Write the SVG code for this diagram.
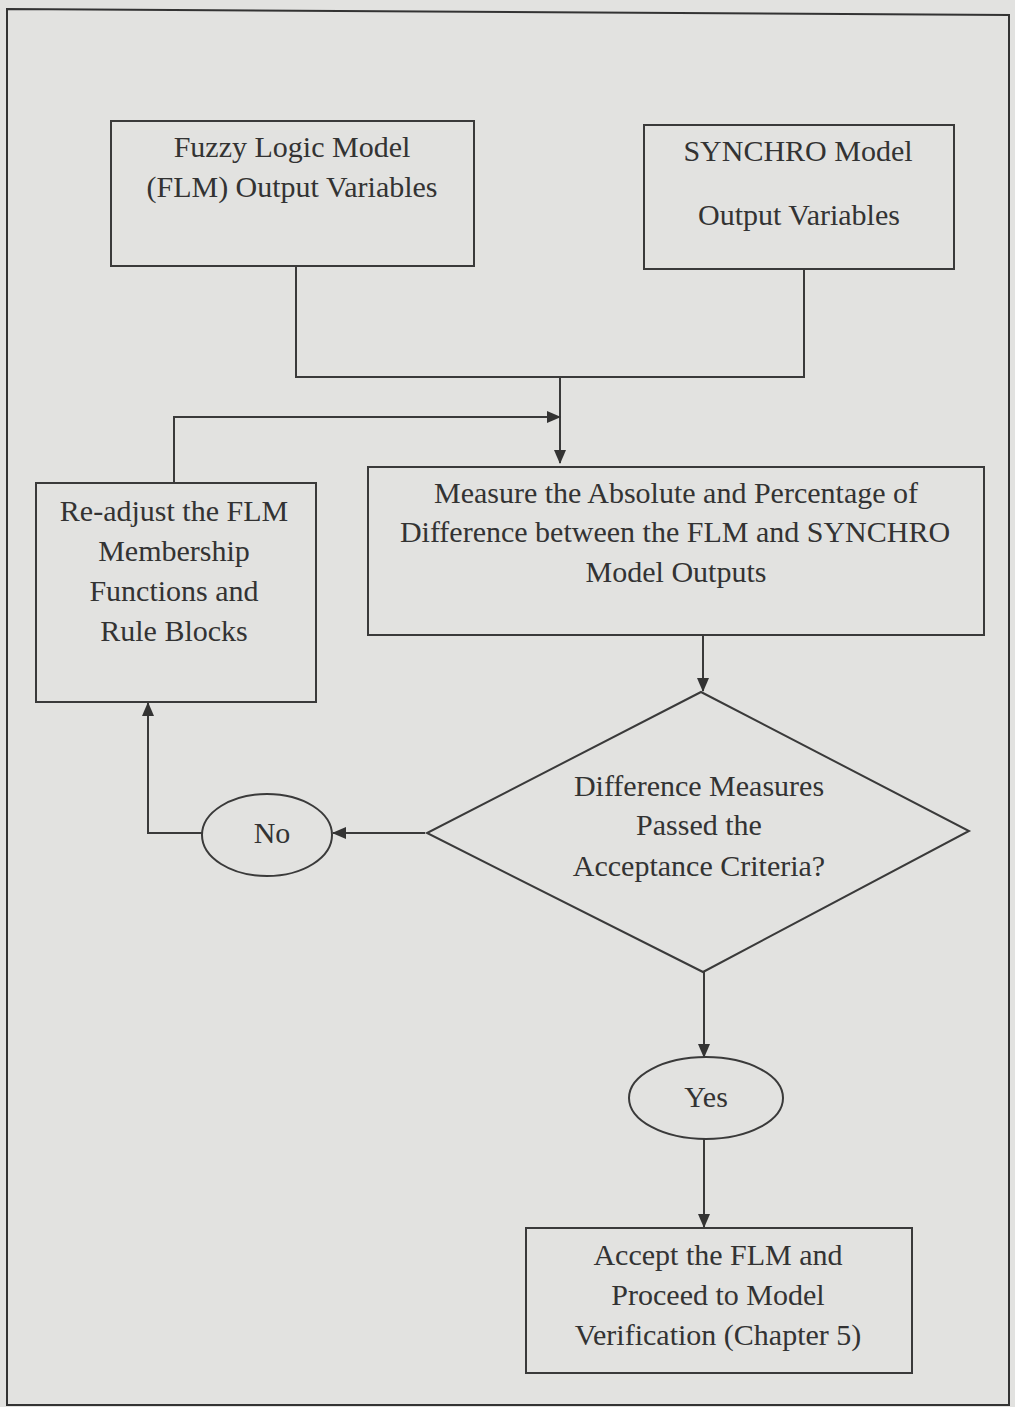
<svg xmlns="http://www.w3.org/2000/svg" width="1015" height="1407" viewBox="0 0 1015 1407">
<defs>
<marker id="arr" markerWidth="14" markerHeight="12" refX="13" refY="6" orient="auto" markerUnits="userSpaceOnUse">
<path d="M0,0 L14,6 L0,12 Z" fill="#333"/>
</marker>
<style>
.box{fill:none;stroke:#3a3a3a;stroke-width:2}
.ln{fill:none;stroke:#3a3a3a;stroke-width:2}
text{font-family:"Liberation Serif","Times New Roman",serif;font-size:30px;fill:#333;text-anchor:middle}
</style>
</defs>
<rect x="0" y="0" width="1015" height="1407" fill="#e2e2e0"/>
<path d="M7,9 L1009,15 L1009,1405 L7,1405 Z" fill="none" stroke="#333" stroke-width="2"/>

<g id="connectors">
<path class="ln" d="M296,266 V377 H804 V269"/>
<path class="ln" d="M560,377 V463" marker-end="url(#arr)"/>
<path class="ln" d="M174,483 V417 H560" marker-end="url(#arr)"/>
<path class="ln" d="M703,635 V691" marker-end="url(#arr)"/>
<path class="ln" d="M425,833 H333" marker-end="url(#arr)"/>
<path class="ln" d="M202,833 H148 V703" marker-end="url(#arr)"/>
<path class="ln" d="M704,972 V1057" marker-end="url(#arr)"/>
<path class="ln" d="M704,1139 V1227" marker-end="url(#arr)"/>
</g>

<g id="flm">
<rect class="box" x="111" y="121" width="363" height="145"/>
<text x="292" y="157">Fuzzy Logic Model</text>
<text x="292" y="197">(FLM) Output Variables</text>
</g>

<g id="synchro">
<rect class="box" x="644" y="125" width="310" height="144"/>
<text x="798" y="161">SYNCHRO Model</text>
<text x="799" y="225">Output Variables</text>
</g>

<g id="readjust">
<rect class="box" x="36" y="483" width="280" height="219"/>
<text x="174" y="521">Re-adjust the FLM</text>
<text x="174" y="561">Membership</text>
<text x="174" y="601">Functions and</text>
<text x="174" y="641">Rule Blocks</text>
</g>

<g id="measure">
<rect class="box" x="368" y="467" width="616" height="168"/>
<text x="676" y="503">Measure the Absolute and Percentage of</text>
<text x="675" y="542">Difference between the FLM and SYNCHRO</text>
<text x="676" y="582">Model Outputs</text>
</g>

<g id="decision">
<polygon class="box" points="701,692 969,831 703,972 427,833"/>
<text x="699" y="796">Difference Measures</text>
<text x="699" y="835">Passed the</text>
<text x="699" y="876">Acceptance Criteria?</text>
</g>

<g id="no">
<ellipse class="box" cx="267" cy="835" rx="65" ry="41"/>
<text x="272" y="843">No</text>
</g>

<g id="yes">
<ellipse class="box" cx="706" cy="1098" rx="77" ry="41"/>
<text x="706" y="1107">Yes</text>
</g>

<g id="accept">
<rect class="box" x="526" y="1228" width="386" height="145"/>
<text x="718" y="1265">Accept the FLM and</text>
<text x="718" y="1305">Proceed to Model</text>
<text x="718" y="1345">Verification (Chapter 5)</text>
</g>
</svg>
